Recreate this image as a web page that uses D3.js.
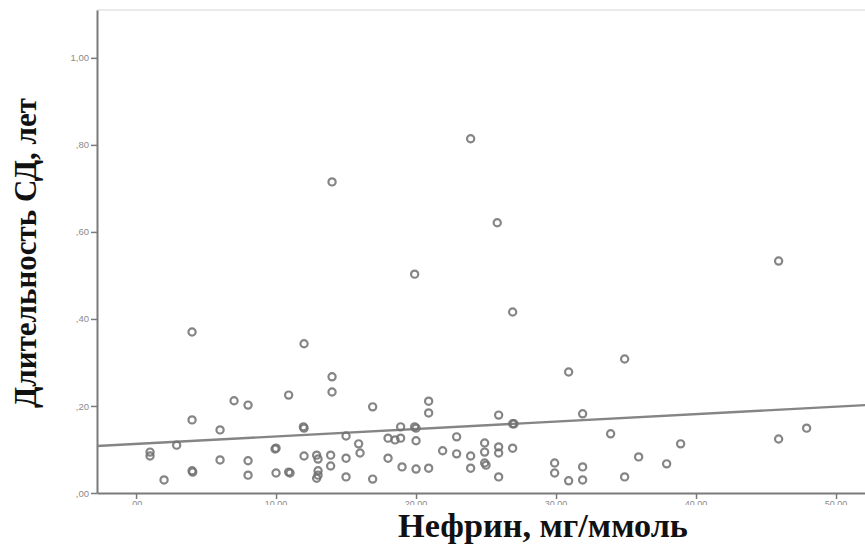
<!DOCTYPE html>
<html>
<head>
<meta charset="utf-8">
<script src="https://cdn.jsdelivr.net/npm/d3@7"></script>
<style>
  body { margin: 0; background: #fff; }
  svg { display: block; }
</style>
</head>
<body>
<svg id="chart" width="865" height="556"></svg>
<script>
// Нефрин (мг/ммоль) по пациентам
const nephrin = [1.0, 1.0, 2.0, 2.9, 4.0, 4.0, 4.0, 4.05, 6.0, 6.0,
  7.0, 8.0, 8.0, 8.0, 9.93, 10.0, 10.0, 10.9, 10.9, 11.0,
  12.0, 11.95, 12.0, 12.0, 12.9, 13.0, 13.0, 13.0, 12.9, 14.0,
  14.0, 14.0, 13.9, 13.9, 15.0, 15.0, 15.0, 15.9, 16.0, 16.9,
  16.9, 18.0, 18.0, 18.5, 18.9, 18.9, 19.0, 19.9, 19.9, 20.0,
  20.0, 20.0, 20.9, 20.9, 20.9, 21.9, 22.9, 22.9, 23.9, 23.9,
  23.9, 24.9, 24.9, 24.9, 25.0, 25.8, 25.9, 25.9, 25.9, 25.9,
  26.9, 26.9, 27.0, 26.9, 29.9, 29.9, 30.9, 30.9, 31.9, 31.9,
  31.9, 33.9, 34.9, 34.9, 35.9, 37.9, 38.9, 45.9, 45.9, 47.9];

// Длительность СД для тех же пациентов
const duration = [0.094, 0.085, 0.030, 0.110, 0.370, 0.168, 0.051, 0.048, 0.145, 0.076,
  0.212, 0.202, 0.074, 0.041, 0.101, 0.103, 0.046, 0.225, 0.048, 0.046,
  0.343, 0.152, 0.149, 0.085, 0.087, 0.078, 0.051, 0.041, 0.034, 0.715,
  0.267, 0.232, 0.087, 0.062, 0.131, 0.080, 0.037, 0.113, 0.092, 0.198,
  0.032, 0.126, 0.080, 0.122, 0.152, 0.126, 0.060, 0.503, 0.152, 0.149,
  0.120, 0.055, 0.211, 0.184, 0.057, 0.097, 0.129, 0.090, 0.814, 0.085,
  0.057, 0.115, 0.094, 0.069, 0.064, 0.621, 0.179, 0.106, 0.092, 0.037,
  0.416, 0.159, 0.159, 0.103, 0.069, 0.046, 0.278, 0.028, 0.182, 0.060,
  0.030, 0.136, 0.308, 0.037, 0.083, 0.067, 0.113, 0.533, 0.124, 0.149];

// Линия тренда (концы)
const fitX = [-2.8, 52.1];
const fitY = [0.108, 0.202];

const xTicks = [0, 10, 20, 30, 40, 50];
const xTickLabels = [",00", "10,00", "20,00", "30,00", "40,00", "50,00"];
const yTicks = [0, 0.2, 0.4, 0.6, 0.8, 1.0];
const yTickLabels = [",00", ",20", ",40", ",60", ",80", "1,00"];

const xTitle = "Нефрин, мг/ммоль";
const yTitle = "Длительность СД, лет";

const svg = d3.select("#chart");
const W = 865;

const x = d3.scaleLinear().domain([-2.79, 52.07]).range([97, 865]);
const y = d3.scaleLinear().domain([0, 1.11]).range([493, 10]);

const axisColor = "#7a7a7a";
const labelColor = "#8a8a8a";

// верхняя рамка
svg.append("line")
  .attr("x1", x.range()[0]).attr("x2", W)
  .attr("y1", y.range()[1]).attr("y2", y.range()[1])
  .attr("stroke", "#d4d4d4").attr("stroke-width", 1);

// ось Y
const yAxis = svg.append("g")
  .attr("transform", `translate(${x.range()[0]},0)`)
  .call(d3.axisLeft(y).tickValues(yTicks)
    .tickFormat((d, i) => yTickLabels[i]).tickSize(6).tickSizeOuter(0));
yAxis.select(".domain").attr("stroke", axisColor).attr("stroke-width", 2);
yAxis.selectAll(".tick line").attr("stroke", axisColor).attr("stroke-width", 1.5);
yAxis.selectAll(".tick text")
  .attr("fill", labelColor).attr("font-family", "Arial, 'Liberation Sans', sans-serif")
  .attr("font-size", 9.5).attr("x", -8);

// ось X: подписи делений срезаны по нижнему краю полосы
svg.append("clipPath").attr("id", "xlabclip")
  .attr("clipPathUnits", "userSpaceOnUse")
  .append("rect").attr("x", 0).attr("y", 494).attr("width", W).attr("height", 11);
const xAxis = svg.append("g")
  .attr("transform", `translate(0,${y.range()[0]})`)
  .call(d3.axisBottom(x).tickValues(xTicks)
    .tickFormat((d, i) => xTickLabels[i]).tickSize(6).tickSizeOuter(0));
xAxis.select(".domain").attr("stroke", axisColor).attr("stroke-width", 2);
xAxis.selectAll(".tick line").attr("stroke", axisColor).attr("stroke-width", 1.5);
xAxis.selectAll(".tick text").remove();

// подписи делений X отдельным слоем с обрезкой
svg.append("g").attr("clip-path", "url(#xlabclip)")
  .selectAll("text").data(xTicks).join("text")
  .attr("x", d => x(d)).attr("y", 506.5)
  .attr("text-anchor", "middle")
  .attr("fill", labelColor).attr("font-family", "Arial, 'Liberation Sans', sans-serif")
  .attr("font-size", 9)
  .text((d, i) => xTickLabels[i]);

// линия тренда
svg.append("line")
  .attr("x1", x(fitX[0])).attr("y1", y(fitY[0]))
  .attr("x2", x(fitX[1])).attr("y2", y(fitY[1]))
  .attr("stroke", "#858585").attr("stroke-width", 2.4);

// точки
const pts = nephrin.map((v, i) => ({ x: v, y: duration[i] }));
svg.append("g").selectAll("circle").data(pts).join("circle")
  .attr("cx", d => x(d.x)).attr("cy", d => y(d.y))
  .attr("r", 3.6)
  .attr("fill", "none")
  .attr("stroke", "#707070")
  .attr("stroke-opacity", 0.85)
  .attr("stroke-width", 2.2);

// заголовки осей
function fitText(sel, target) {
  const len = sel.node().getComputedTextLength();
  const fs = parseFloat(sel.attr("font-size"));
  sel.attr("font-size", fs * target / len);
}

const xt = svg.append("text")
  .attr("x", 543).attr("y", 537)
  .attr("text-anchor", "middle")
  .attr("font-family", "'Liberation Serif', 'DejaVu Serif', serif")
  .attr("font-weight", "bold").attr("font-size", 24)
  .attr("fill", "#111")
  .text(xTitle);
fitText(xt, 290);

const yt = svg.append("text")
  .attr("transform", "translate(36,253) rotate(-90)")
  .attr("text-anchor", "middle")
  .attr("font-family", "'Liberation Serif', 'DejaVu Serif', serif")
  .attr("font-weight", "bold").attr("font-size", 24)
  .attr("fill", "#111")
  .text(yTitle);
fitText(yt, 310);
</script>
</body>
</html>
